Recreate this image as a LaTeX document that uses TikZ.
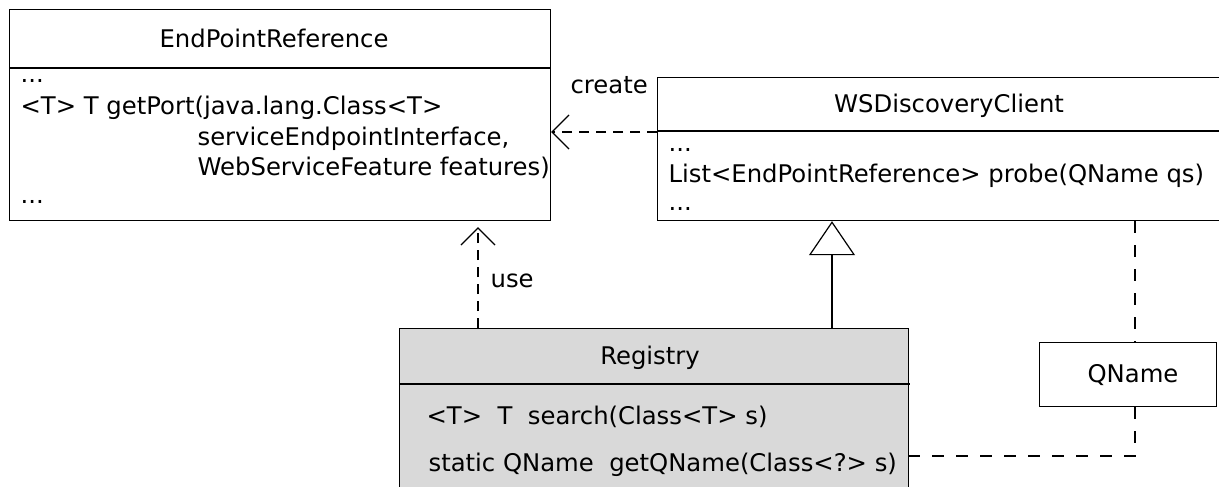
\documentclass[tikz,border=0pt]{standalone}
\usepackage{fontspec}
\setmainfont{DejaVu Sans}
\usetikzlibrary{arrows.meta}
\definecolor{regfill}{RGB}{217,217,217}
\begin{document}
\begin{tikzpicture}[x=1pt,y=-1pt,line width=1.2pt,
  box/.style={draw,rectangle,anchor=north west,inner sep=0pt},
  txt/.style={anchor=base west,inner sep=0pt,font=\fontsize{24.3}{29}\selectfont},
  ctxt/.style={anchor=base,inner sep=0pt,font=\fontsize{24.3}{29}\selectfont},
  dep/.style={dash pattern=on 10pt off 7pt},
  link/.style={dash pattern=on 12pt off 12pt},
  depend/.style={dep,-{Straight Barb[length=17pt,width=34pt,line width=1.2pt]}},
  inherit/.style={-{Triangle[open,length=34pt,width=46pt,fill=white,line width=1.2pt]}}]
\useasboundingbox (0,0) rectangle (1219,487);
\clip (0,0) rectangle (1219,487);
% boxes
\node[box,minimum width=541,minimum height=211] (epr) at (9,9) {};
\draw (9,68) -- (550,68);
\node[box,minimum width=600,minimum height=143] (wsd) at (657,77) {};
\draw (657,131) -- (1260,131);
\node[box,fill=regfill,minimum width=509,minimum height=200] (reg) at (399,328) {};
\draw (399,384) -- (910,384);
\node[box,minimum width=177,minimum height=64] (qn) at (1039,342) {};
% texts
\node[ctxt] (eprt) at (274,48) {EndPointReference};
\node[txt] (e1) at (20,82) {...};
\node[txt] (e2) at (20,114) {<T> T getPort(java.lang.Class<T>};
\node[txt] (e3) at (197,145) {serviceEndpointInterface,};
\node[txt] (e4) at (197,175) {WebServiceFeature features)};
\node[txt] (e5) at (20,203) {...};
\node[ctxt] (wsdt) at (949,113) {WSDiscoveryClient};
\node[txt] (w1) at (668,151) {...};
\node[txt] (w2) at (668,182) {List<EndPointReference> probe(QName qs)};
\node[txt] (w3) at (668,210) {...};
\node[ctxt] (regt) at (650,364) {Registry};
\node[txt] (r1) at (426,424) {<T>~~T~~search(Class<T> s)};
\node[txt] (r2) at (428,471) {static QName~~getQName(Class<?> s)};
\node[ctxt] (qnt) at (1133,382) {QName};
\node[txt] (lc) at (570,94) {create};
\node[txt] (lu) at (490,287) {use};
% connectors
\coordinate (cy) at (0,132);
\coordinate (ux) at (478,0);
\coordinate (gx) at (832,0);
\coordinate (qx) at (1135,0);
\coordinate (ry) at (0,456);
\draw[depend] (wsd.west |- cy) -- (epr.east |- cy);
\draw[depend,shorten >=6pt] (reg.north -| ux) -- (epr.south -| ux);
\draw[inherit] (reg.north -| gx) -- (wsd.south -| gx);
\draw[link] (wsd.south -| qx) -- (qn.north -| qx);
\draw[link] (qn.south -| qx) |- (reg.east |- ry);
\end{tikzpicture}
\end{document}
